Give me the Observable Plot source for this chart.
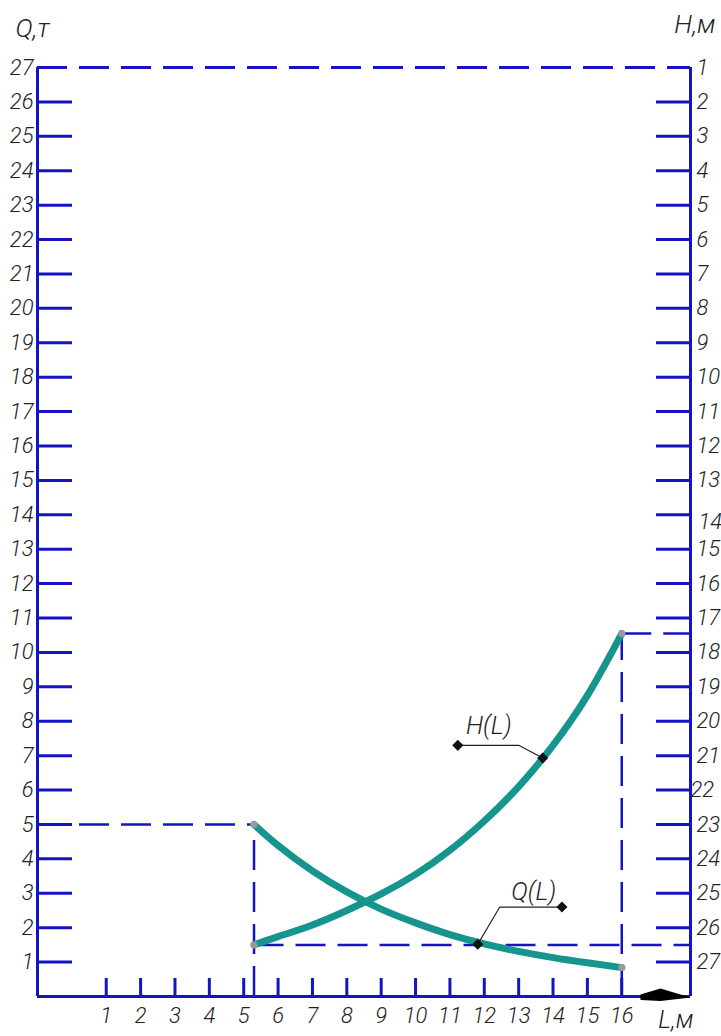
<!DOCTYPE html>
<html><head><meta charset="utf-8">
<script src="https://cdn.jsdelivr.net/npm/d3@7"></script>
<script src="https://cdn.jsdelivr.net/npm/@observablehq/plot@0.6"></script>
<style>body{margin:0;background:#fff} svg{display:block}</style>
</head><body><div id="chart"></div>
<script>
// ---- data ----
const lTicks = [1,2,3,4,5,6,7,8,9,10,11,12,13,14,15,16];
const qTicks = [1,2,3,4,5,6,7,8,9,10,11,12,13,14,15,16,17,18,19,20,21,22,23,24,25,26];
const qLabels = [1,2,3,4,5,6,7,8,9,10,11,12,13,14,15,16,17,18,19,20,21,22,23,24,25,26,27];
const hLabels = [1,2,3,4,5,6,7,8,9,10,11,12,13,15,16,17,18,19,20,21,23,24,25,26,27];
const hLabelsShiftDown = [14];
const hLabelsShiftLeft = [22];
const hShift = 28;           // right axis: H = 28 - position on Q axis
const lDomain = [-1, 18];
const qDomain = [0, 27];

// Q(L), т
const qL   = [5.3, 6, 7, 8, 9, 10, 11, 12, 13, 14, 15, 16];
const qVal = [5.0, 4.39, 3.65, 3.04, 2.54, 2.14, 1.8, 1.53, 1.31, 1.13, 0.98, 0.84];
// H(L), м
const hL   = [5.3, 6, 7, 8, 9, 10, 11, 12, 13, 14, 15, 16];
const hVal = [26.5, 26.26, 25.92, 25.5, 25.02, 24.45, 23.75, 22.9, 21.9, 20.7, 19.25, 17.45];

// annotation leaders (L, Q-axis units)
const hLeaderL = [13.7, 13.0, 11.23];
const hLeaderQ = [6.93, 7.3, 7.3];
const qLeaderL = [11.81, 12.45, 14.26];
const qLeaderQ = [1.52, 2.6, 2.6];
const curveNames = ["H(L)", "Q(L)"];
const curveNameL = [12.13, 13.44];
const curveNameQ = [7.86, 3.03];

// ---- build ----
const W = 721, H = 1036;
const mL = 37, mR = 31, mT = 67, mB = 40;
const innerW = W - mL - mR, innerH = H - mT - mB;
const blue = "#1414c4", teal = "#16958f";
const dash = "30,12";
const font = "Roboto, 'DejaVu Sans Condensed', sans-serif";

const qData = qL.map((L, i) => ({L, Q: qVal[i]}));
const hData = hL.map((L, i) => ({L, Q: hShift - hVal[i]}));
const q0 = qData[0], q1 = qData[qData.length - 1];
const h0 = hData[0], h1 = hData[hData.length - 1];
const ends = [q0, q1, h0, h1];
const hLeader = hLeaderL.map((L, i) => ({L, Q: hLeaderQ[i]}));
const qLeader = qLeaderL.map((L, i) => ({L, Q: qLeaderQ[i]}));
const names = curveNames.map((t, i) => ({t, L: curveNameL[i], Q: curveNameQ[i]}));

const arrowSymbol = {
  draw(ctx) {
    ctx.moveTo(0, 1);
    ctx.lineTo(-30, -8);
    ctx.lineTo(-50, -2);
    ctx.lineTo(-50, 3.5);
    ctx.lineTo(-30, 4.5);
    ctx.closePath();
  }
};

const txt = {fill: "#222", fontWeight: 300};

const chart = Plot.plot({
  width: W, height: H,
  marginLeft: mL, marginRight: mR, marginTop: mT, marginBottom: mB,
  x: {domain: lDomain, axis: null},
  y: {domain: qDomain, axis: null},
  style: {fontFamily: font, fontStyle: "italic", background: "#fff"},
  marks: [
    // dashed construction lines
    Plot.ruleY([qDomain[1]], {stroke: blue, strokeWidth: 3, strokeDasharray: dash}),
    Plot.ruleY([q0], {y: "Q", x1: lDomain[0], x2: "L", stroke: blue, strokeWidth: 2.5, strokeDasharray: dash}),
    Plot.ruleX([q0], {x: "L", y1: qDomain[0], y2: "Q", stroke: blue, strokeWidth: 2.5, strokeDasharray: dash}),
    Plot.ruleY([h0], {y: "Q", x1: "L", x2: lDomain[1], stroke: blue, strokeWidth: 2.5, strokeDasharray: dash}),
    Plot.ruleX([h1], {x: "L", y1: qDomain[0], y2: "Q", stroke: blue, strokeWidth: 2.5, strokeDasharray: dash}),
    Plot.ruleY([h1], {y: "Q", x1: "L", x2: lDomain[1], stroke: blue, strokeWidth: 2.5, strokeDasharray: dash}),
    // axes lines
    Plot.ruleX([lDomain[0]], {stroke: blue, strokeWidth: 3}),
    Plot.ruleX([lDomain[1]], {stroke: blue, strokeWidth: 3}),
    Plot.ruleY([qDomain[0]], {stroke: blue, strokeWidth: 3}),
    // inner ticks
    Plot.tickY(qTicks, {y: d => d, stroke: blue, strokeWidth: 3, insetRight: innerW - 35}),
    Plot.tickY(qTicks, {y: d => d, stroke: blue, strokeWidth: 3, insetLeft: innerW - 34}),
    Plot.tickX(lTicks, {x: d => d, stroke: blue, strokeWidth: 3, insetTop: innerH - 18}),
    // arrow on L axis
    Plot.dot([0], {frameAnchor: "bottom-right", symbol: arrowSymbol, fill: "black", stroke: "none"}),
    // curves
    Plot.line(qData, {x: "L", y: "Q", stroke: teal, strokeWidth: 7, curve: "natural"}),
    Plot.line(hData, {x: "L", y: "Q", stroke: teal, strokeWidth: 7, curve: "natural"}),
    Plot.dot(ends, {x: "L", y: "Q", r: 3.5, fill: "#9a9a9a", stroke: "none"}),
    // leaders
    Plot.line(hLeader, {x: "L", y: "Q", stroke: "#222", strokeWidth: 1.2}),
    Plot.line(qLeader, {x: "L", y: "Q", stroke: "#222", strokeWidth: 1.2}),
    Plot.dot([hLeader[0], hLeader[2], qLeader[0], qLeader[2]], {x: "L", y: "Q", symbol: "diamond2", r: 5, fill: "#111", stroke: "none"}),
    Plot.text(names, {x: "L", y: "Q", text: "t", fontSize: 25, ...txt}),
    // tick labels
    Plot.text(qLabels, {y: d => d, text: d => String(d), frameAnchor: "left", textAnchor: "end", dx: -4, fontSize: 22, ...txt}),
    Plot.text(hLabels, {y: d => hShift - d, text: d => String(d), frameAnchor: "right", textAnchor: "start", dx: 6, fontSize: 22, ...txt}),
    Plot.text(hLabelsShiftDown, {y: d => hShift - d, text: d => String(d), frameAnchor: "right", textAnchor: "start", dx: 8, dy: 7, fontSize: 22, ...txt}),
    Plot.text(hLabelsShiftLeft, {y: d => hShift - d, text: d => String(d), frameAnchor: "right", textAnchor: "start", dx: 0, fontSize: 22, ...txt}),
    Plot.text(lTicks, {x: d => d, text: d => String(d), frameAnchor: "bottom", lineAnchor: "middle", dy: 19, fontSize: 22, ...txt}),
    // axis titles
    Plot.text(["Q,т"], {frameAnchor: "top-left", textAnchor: "start", lineAnchor: "middle", text: d => d, dx: -22, dy: -39, fontSize: 26, ...txt}),
    Plot.text(["H,м"], {frameAnchor: "top-right", textAnchor: "end", lineAnchor: "middle", text: d => d, dx: 25, dy: -43, fontSize: 26, ...txt}),
    Plot.text(["L,м"], {frameAnchor: "bottom-right", textAnchor: "end", lineAnchor: "middle", text: d => d, dx: 3, dy: 23, fontSize: 25, ...txt})
  ]
});
document.getElementById("chart").appendChild(chart);
</script>
</body></html>
